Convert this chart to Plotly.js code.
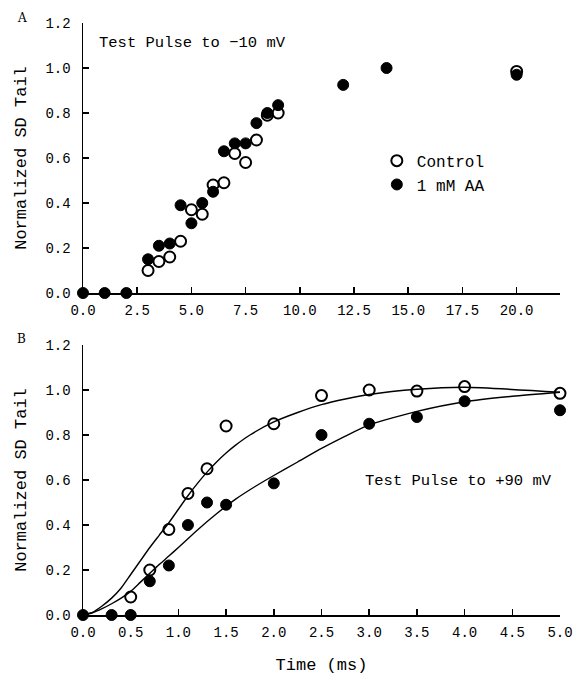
<!DOCTYPE html>
<html>
<head>
<meta charset="utf-8">
<script src="https://cdn.plot.ly/plotly-3.0.1.min.js"></script>
<style>html,body{margin:0;padding:0;background:#fff;}#chart{width:582px;height:677px;}</style>
</head>
<body>
<div id="chart"></div>
<script>
// Panel A: test pulse to -10 mV
var ctrlA_x = [3, 3.5, 4, 4.5, 5, 5.5, 6, 6.5, 7, 7.5, 8, 8.5, 9, 20];
var ctrlA_y = [0.10, 0.14, 0.16, 0.23, 0.37, 0.35, 0.48, 0.49, 0.62, 0.58, 0.68, 0.79, 0.80, 0.985];
var aaA_x = [0, 1, 2, 3, 3.5, 4, 4.5, 5, 5.5, 6, 6.5, 7, 7.5, 8, 8.5, 9, 12, 14, 20];
var aaA_y = [0, 0, 0, 0.15, 0.21, 0.22, 0.39, 0.31, 0.40, 0.45, 0.63, 0.665, 0.665, 0.755, 0.80, 0.835, 0.925, 1.0, 0.97];

// Panel B: test pulse to +90 mV
var ctrlB_x = [0.5, 0.7, 0.9, 1.1, 1.3, 1.5, 2.0, 2.5, 3.0, 3.5, 4.0, 5.0];
var ctrlB_y = [0.08, 0.20, 0.38, 0.54, 0.65, 0.84, 0.85, 0.975, 1.0, 0.995, 1.015, 0.985];
var aaB_x = [0, 0.3, 0.5, 0.7, 0.9, 1.1, 1.3, 1.5, 2.0, 2.5, 3.0, 3.5, 4.0, 5.0];
var aaB_y = [0, 0, 0, 0.15, 0.22, 0.40, 0.50, 0.49, 0.585, 0.80, 0.85, 0.88, 0.95, 0.91];

// Fitted curves
var fitCtrl_t = [0, 0.1, 0.2, 0.3, 0.4, 0.5, 0.6, 0.7, 0.8, 0.9, 1.0, 1.1, 1.2, 1.3, 1.4, 1.5, 1.6, 1.75, 2.0, 2.25, 2.5, 2.75, 3.0, 3.5, 4.0, 5.0];
var fitCtrl_y = [0, 0.012, 0.04, 0.075, 0.12, 0.18, 0.24, 0.30, 0.355, 0.41, 0.47, 0.53, 0.585, 0.635, 0.68, 0.72, 0.755, 0.80, 0.858, 0.90, 0.935, 0.96, 0.98, 1.003, 1.012, 0.99];
var fitAA_t = [0, 0.1, 0.2, 0.3, 0.4, 0.5, 0.6, 0.7, 0.8, 0.9, 1.0, 1.2, 1.4, 1.6, 1.8, 2.0, 2.25, 2.5, 2.75, 3.0, 3.5, 4.0, 4.5, 5.0];
var fitAA_y = [0, 0.01, 0.028, 0.05, 0.075, 0.105, 0.145, 0.185, 0.225, 0.262, 0.30, 0.378, 0.45, 0.515, 0.57, 0.62, 0.68, 0.74, 0.795, 0.845, 0.905, 0.948, 0.972, 0.99];

var yTicks = [0, 0.2, 0.4, 0.6, 0.8, 1.0, 1.2];
var yTickText = ['0.0', '0.2', '0.4', '0.6', '0.8', '1.0', '1.2'];
var xTicksA = [0, 2.5, 5, 7.5, 10, 12.5, 15, 17.5, 20];
var xTickTextA = ['0.0', '2.5', '5.0', '7.5', '10.0', '12.5', '15.0', '17.5', '20.0'];
var xTicksB = [0, 0.5, 1, 1.5, 2, 2.5, 3, 3.5, 4, 4.5, 5];
var xTickTextB = ['0.0', '0.5', '1.0', '1.5', '2.0', '2.5', '3.0', '3.5', '4.0', '4.5', '5.0'];

var FONT = 'Liberation Mono, DejaVu Sans Mono, monospace';
var openMarker = {symbol: 'circle-open', size: 11, color: '#000', line: {color: '#000', width: 2}};
var fillMarker = {symbol: 'circle', size: 11, color: '#000', line: {color: '#000', width: 1}};

var traces = [
  {x: ctrlA_x, y: ctrlA_y, type: 'scatter', mode: 'markers', name: 'Control', marker: openMarker, xaxis: 'x', yaxis: 'y', cliponaxis: false, showlegend: true},
  {x: aaA_x, y: aaA_y, type: 'scatter', mode: 'markers', name: '1 mM AA', marker: fillMarker, xaxis: 'x', yaxis: 'y', cliponaxis: false, showlegend: true},
  {x: fitCtrl_t, y: fitCtrl_y, type: 'scatter', mode: 'lines', line: {color: '#000', width: 1.4, shape: 'spline', smoothing: 0.6}, xaxis: 'x2', yaxis: 'y2', showlegend: false, cliponaxis: false},
  {x: fitAA_t, y: fitAA_y, type: 'scatter', mode: 'lines', line: {color: '#000', width: 1.4, shape: 'spline', smoothing: 0.6}, xaxis: 'x2', yaxis: 'y2', showlegend: false, cliponaxis: false},
  {x: ctrlB_x, y: ctrlB_y, type: 'scatter', mode: 'markers', name: 'Control', marker: openMarker, xaxis: 'x2', yaxis: 'y2', cliponaxis: false, showlegend: false},
  {x: aaB_x, y: aaB_y, type: 'scatter', mode: 'markers', name: '1 mM AA', marker: fillMarker, xaxis: 'x2', yaxis: 'y2', cliponaxis: false, showlegend: false}
];

function yAxis(domain, anchor) {
  return {
    domain: domain, anchor: anchor, range: [0, 1.2], tickvals: yTicks, ticktext: yTickText,
    ticks: 'inside', ticklen: 6, tickwidth: 1.5, tickcolor: '#000',
    showline: true, linecolor: '#000', linewidth: 1.5, zeroline: false, showgrid: false,
    tickfont: {family: FONT, size: 14, color: '#000'}, ticklabelstandoff: 8,
    title: {text: 'Normalized SD Tail', font: {family: FONT, size: 17, color: '#000'}, standoff: 14}
  };
}
function xAxis(range, vals, txt, anchor) {
  return {
    anchor: anchor, range: range, tickvals: vals, ticktext: txt, domain: [0, 1],
    ticks: 'inside', ticklen: 6, tickwidth: 1.5, tickcolor: '#000',
    showline: true, linecolor: '#000', linewidth: 1.5, zeroline: false, showgrid: false,
    tickfont: {family: FONT, size: 14, color: '#000'}, ticklabelstandoff: 4
  };
}

var xa = xAxis([0, 22], xTicksA, xTickTextA, 'y');
var xb = xAxis([0, 5], xTicksB, xTickTextB, 'y2');
xb.title = {text: 'Time (ms)', font: {family: FONT, size: 17, color: '#000'}, standoff: 18};

var layout = {
  width: 582, height: 677,
  margin: {l: 83, r: 22, t: 23, b: 62},
  paper_bgcolor: '#fff', plot_bgcolor: '#fff',
  font: {family: FONT, color: '#000'},
  xaxis: xa,
  yaxis: yAxis([0.5439, 1], 'x'),
  xaxis2: xb,
  yaxis2: yAxis([0, 0.4561], 'x2'),
  showlegend: true,
  legend: {x: 0.616, y: 0.796, xanchor: 'left', yanchor: 'top', bgcolor: 'rgba(0,0,0,0)',
           font: {family: FONT, size: 16, color: '#000'}, tracegroupgap: 0, itemwidth: 30},
  annotations: [
    {text: 'A', xref: 'paper', yref: 'paper', x: -0.128, y: 1.008, xanchor: 'center', yanchor: 'middle', showarrow: false, font: {family: 'DejaVu Serif, serif', size: 12, color: '#000'}},
    {text: 'B', xref: 'paper', yref: 'paper', x: -0.128, y: 0.467, xanchor: 'center', yanchor: 'middle', showarrow: false, font: {family: 'DejaVu Serif, serif', size: 12, color: '#000'}},
    {text: 'Test Pulse to \u221210 mV', xref: 'x', yref: 'y', x: 0.66, y: 1.11, xanchor: 'left', yanchor: 'middle', showarrow: false, font: {family: FONT, size: 15.5, color: '#000'}},
    {text: 'Test Pulse to +90 mV', xref: 'x2', yref: 'y2', x: 2.93, y: 0.595, xanchor: 'left', yanchor: 'middle', showarrow: false, font: {family: FONT, size: 15.5, color: '#000'}}
  ]
};

Plotly.newPlot('chart', traces, layout, {displayModeBar: false, staticPlot: true});
</script>
</body>
</html>
